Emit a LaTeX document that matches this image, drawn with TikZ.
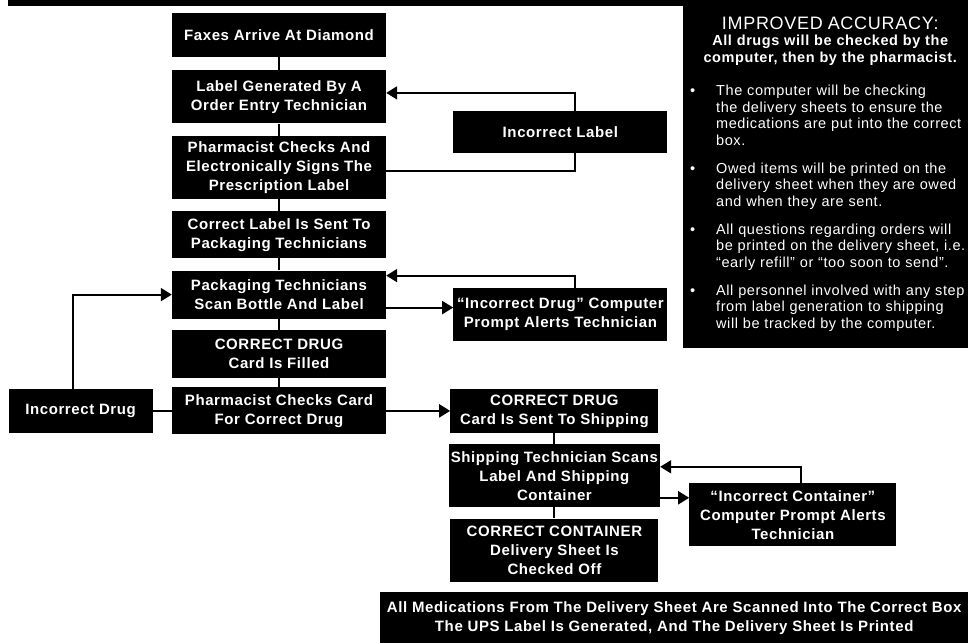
\documentclass[tikz,border=0pt]{standalone}
\usepackage{fontspec}
\setmainfont{Liberation Sans}[LetterSpace=4]
\usetikzlibrary{positioning,arrows.meta}

\newenvironment{accpoints}{\begin{list}{\textbullet}{%
  \setlength\leftmargin{26bp}\setlength\labelwidth{20bp}%
  \setlength\labelsep{6bp}\setlength\topsep{17bp}\setlength\partopsep{0pt}%
  \setlength\parsep{0pt}\setlength\itemsep{11.5bp}%
  \renewcommand\makelabel[1]{##1\hfil}}}{\end{list}}

\tikzset{
  proc/.style={fill=black, text=white, align=center, inner sep=2bp,
    minimum width=214bp, font=\fontsize{15bp}{19bp}\selectfont\bfseries},
  link/.style={line width=2bp},
  flow/.style={line width=2bp, -{Triangle[length=11bp,width=13bp]}},
}

\begin{document}
\begin{tikzpicture}[x=1bp, y=-1bp]
\useasboundingbox (0,0) rectangle (968,643);
\fill (8,0) rectangle (683,6);

% main column
\node[proc, minimum height=44bp] (faxes) at (279,35) {Faxes Arrive At Diamond};
\node[proc, minimum height=53bp, below=13bp of faxes] (labelgen) {Label Generated By A\\ Order Entry Technician};
\node[proc, minimum height=63bp, below=12bp of labelgen] (signs) {Pharmacist Checks And\\ Electronically Signs The\\ Prescription Label};
\node[proc, minimum height=47bp, below=12bp of signs] (sent) {Correct Label Is Sent To\\ Packaging Technicians};
\node[proc, minimum height=48bp, below=12bp of sent] (scan) {Packaging Technicians\\ Scan Bottle And Label};
\node[proc, minimum height=48bp, below=11bp of scan] (filled) {CORRECT DRUG\\ Card Is Filled};
\node[proc, minimum height=47bp, below=9bp of filled] (cardcheck) {Pharmacist Checks Card\\ For Correct Drug};
\node[proc, minimum width=144bp, minimum height=44bp, left=19bp of cardcheck] (wrongdrug) {Incorrect Drug};

% error prompts
\node[proc, minimum height=42bp, right=67bp of signs, yshift=35bp] (wronglabel) {Incorrect Label};
\node[proc, minimum height=53bp, right=67bp of scan, yshift=-20bp] (drugalert) {``Incorrect Drug'' Computer\\ Prompt Alerts Technician};

% shipping
\node[proc, minimum width=208bp, minimum height=44bp, right=64bp of cardcheck] (toship) {CORRECT DRUG\\ Card Is Sent To Shipping};
\node[proc, minimum width=208bp, minimum height=63bp, below=11bp of toship] (shipscan) {Shipping Technician Scans\\ Label And Shipping\\ Container};
\node[proc, minimum width=208bp, minimum height=63bp, below=11bp of shipscan] (checkedoff) {CORRECT CONTAINER\\ Delivery Sheet Is\\ Checked Off};
\node[proc, minimum width=207bp, minimum height=63bp, right=29bp of shipscan, yshift=-39bp] (boxalert) {``Incorrect Container''\\ Computer Prompt Alerts\\ Technician};
\node[proc, minimum width=588bp, minimum height=51bp, anchor=north west] (boxed) at (380,592) {All Medications From The Delivery Sheet Are Scanned Into The Correct Box\\ The UPS Label Is Generated, And The Delivery Sheet Is Printed};

% notes
\node[fill=black, text=white, anchor=north west, text width=280bp, inner xsep=7bp, inner ysep=0bp,
  minimum height=348bp, font=\fontsize{14.5bp}{16.5bp}\selectfont] (accuracy) at (683,0) {%
  \centering{\fontsize{18bp}{21bp}\selectfont IMPROVED ACCURACY:}\\
  {\fontsize{14.5bp}{16.5bp}\selectfont\bfseries All drugs will be checked by the\\ computer, then by the pharmacist.}\par
  \raggedright
  \begin{accpoints}
  \item The computer will be checking\\ the delivery sheets to ensure the\\ medications are put into the correct\\ box.
  \item Owed items will be printed on the\\ delivery sheet when they are owed\\ and when they are sent.
  \item All questions regarding orders will\\ be printed on the delivery sheet, i.e.\\ ``early refill'' or ``too soon to send''.
  \item All personnel involved with any step\\ from label generation to shipping\\ will be tracked by the computer.
  \end{accpoints}};

\draw[link] (faxes) -- (labelgen);
\draw[link] (labelgen) -- (signs);
\draw[link] (signs) -- (sent);
\draw[link] (sent) -- (scan);
\draw[link] (scan) -- (filled);
\draw[link] (filled) -- (cardcheck);
\draw[link] (toship) -- (shipscan);
\draw[link] (shipscan) -- (checkedoff);

\draw[link] ([yshift=-4bp]signs.east) -| ([xshift=15bp]wronglabel.south);
\draw[flow] ([xshift=15bp]wronglabel.north) |- ([yshift=4bp]labelgen.east);
\draw[flow] ([yshift=-13bp]scan.east) -- ([yshift=-13bp]scan.east -| drugalert.west);
\draw[flow] ([xshift=15bp]drugalert.north) |- ([yshift=19bp]scan.east);
\draw[link] (cardcheck) -- (wrongdrug);
\draw[flow] ([xshift=-8bp]wrongdrug.north) |- (scan.west);
\draw[flow] (cardcheck) -- (toship);
\draw[flow] ([yshift=-22bp]shipscan.east) -- ([yshift=-22bp]shipscan.east -| boxalert.west);
\draw[flow] ([xshift=8bp]boxalert.north) |- ([yshift=9bp]shipscan.east);
\end{tikzpicture}
\end{document}
